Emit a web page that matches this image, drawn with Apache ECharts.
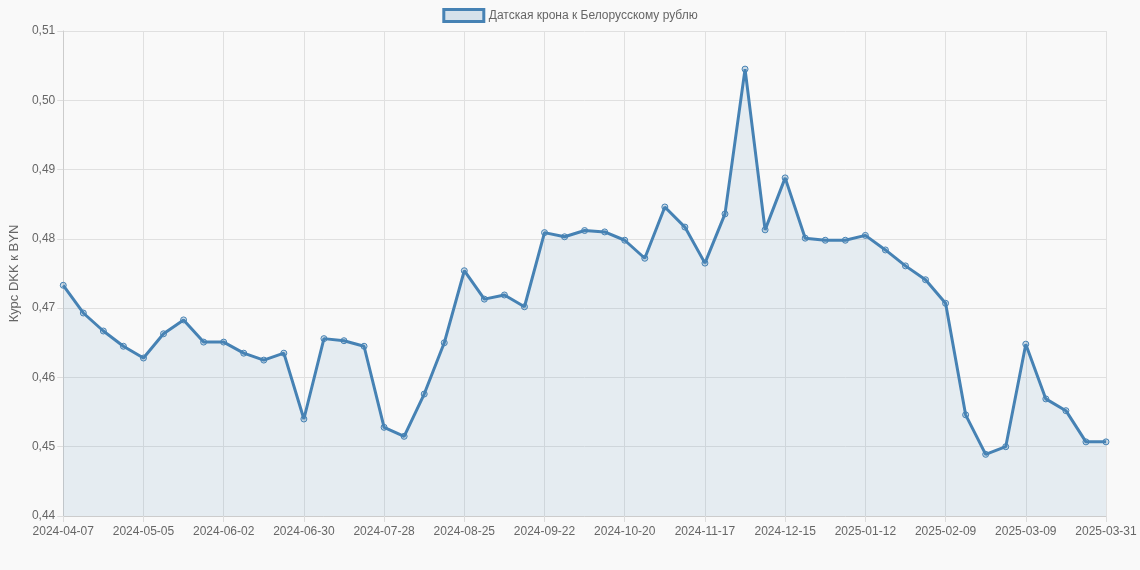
<!DOCTYPE html>
<html><head><meta charset="utf-8">
<script src="https://cdn.jsdelivr.net/npm/echarts@6/dist/echarts.min.js"></script>
<style>html,body{margin:0;padding:0;background:#f9f9f9}#c{width:1140px;height:570px}</style>
</head><body><div id="c"></div>
<script>
const seriesName = "Датская крона к Белорусскому рублю";
const yAxisTitle = "Курс DKK к BYN";
const dates = (function(){const out=[];const d=new Date(Date.UTC(2024,3,7));for(let i=0;i<52;i++){out.push(d.toISOString().slice(0,10));d.setUTCDate(d.getUTCDate()+7);}out.push("2025-03-31");return out;})();
const values = [0.4733,0.4693,0.4667,0.4645,0.4628,0.4663,0.4683,0.4651,0.4651,0.4635,0.4625,0.4635,0.4540,0.4656,0.4653,0.4645,0.4528,0.4515,0.4576,0.4650,0.4754,0.4713,0.4719,0.4702,0.4809,0.4803,0.4812,0.4810,0.4798,0.4772,0.4846,0.4817,0.4765,0.4836,0.5045,0.4813,0.4888,0.4801,0.4798,0.4798,0.4805,0.4784,0.4761,0.4741,0.4707,0.4546,0.4489,0.4500,0.4648,0.4569,0.4552,0.4507,0.4507];
const yTicks = {min:0.44,max:0.51,interval:0.01};
const chart = echarts.init(document.getElementById('c'));
const fmt = v => v.toFixed(2).replace('.', ',');
const show = (i)=>i%4===0||i===dates.length-1;
chart.setOption({
  backgroundColor:'#f9f9f9',
  animation:false,
  legend:{top:3,left:'center',itemWidth:40,itemHeight:12,icon:'rect',
    textStyle:{color:'#666',fontSize:12,fontFamily:'Liberation Sans, Arial'},
    data:[{name:seriesName,itemStyle:{color:'rgba(70,130,180,0.2)',borderColor:'#4682b4',borderWidth:3}}]},
  grid:{left:62,right:34,top:31,bottom:54},
  xAxis:{type:'category',boundaryGap:false,data:dates,
    axisLine:{lineStyle:{color:'#ccc'}},axisTick:{show:true,length:6,lineStyle:{color:'#ddd'},interval:show},
    axisLabel:{color:'#666',fontSize:12,fontFamily:'Liberation Sans, Arial',margin:10,interval:show,showMaxLabel:true},
    splitLine:{show:true,interval:show,lineStyle:{color:'#e0e0e0'}}},
  yAxis:{type:'value',min:yTicks.min,max:yTicks.max,interval:yTicks.interval,
    name:yAxisTitle,nameLocation:'middle',nameGap:42,nameRotate:90,
    nameTextStyle:{color:'#666',fontSize:13,fontFamily:'Liberation Sans, Arial'},
    axisLine:{show:true,lineStyle:{color:'#ccc'}},axisTick:{show:true,length:6,lineStyle:{color:'#ddd'}},
    axisLabel:{color:'#666',fontSize:12,fontFamily:'Liberation Sans, Arial',formatter:fmt},
    splitLine:{lineStyle:{color:'#e0e0e0'}}},
  series:[{name:seriesName,type:'line',data:values,symbol:'circle',symbolSize:6,
    itemStyle:{color:'rgba(70,130,180,0.25)',borderColor:'#4682b4',borderWidth:1},
    lineStyle:{color:'#4682b4',width:3},
    areaStyle:{color:'rgba(70,130,180,0.15)'}}]
});
</script></body></html>
